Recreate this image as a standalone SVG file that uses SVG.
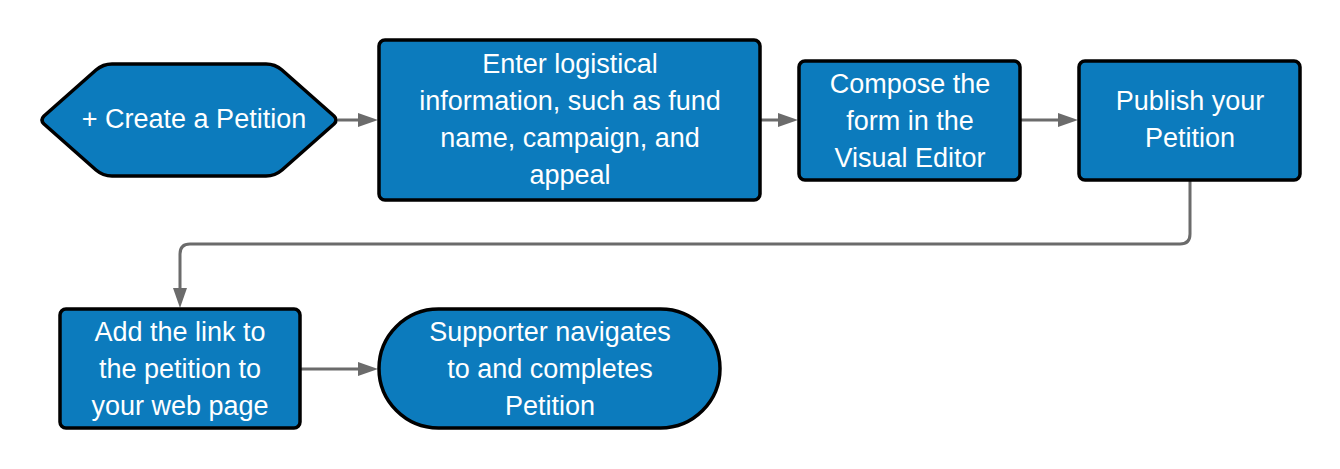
<svg xmlns="http://www.w3.org/2000/svg" width="1340" height="469" viewBox="0 0 1340 469">
<style>
.n{fill:#0c7bbd;stroke:#000;stroke-width:3.5;stroke-linejoin:round}
.t{font-family:"Liberation Sans",Arial,sans-serif;font-size:27px;fill:#fff;text-anchor:middle}
.c{fill:none;stroke:#6b6b6b;stroke-width:3}
</style>
<defs><marker id="a" markerWidth="8" markerHeight="8" refX="7" refY="4" orient="auto" markerUnits="userSpaceOnUse" viewBox="0 0 8 8"><path d="M0,0L8,4L0,8z" fill="#6b6b6b"/></marker></defs>
<rect width="1340" height="469" fill="#fff"/>
<g id="connectors">
<path class="c" d="M338,120H372" marker-end="url(#a)" style="marker-end:none"/>
<path d="M358,113L378,120L358,127z" fill="#6b6b6b"/>
<path class="c" d="M760,120H780"/><path d="M778,113L798,120L778,127z" fill="#6b6b6b"/>
<path class="c" d="M1020,120H1060"/><path d="M1058,113L1078,120L1058,127z" fill="#6b6b6b"/>
<path class="c" d="M1190,180V234Q1190,244 1180,244H190Q180,244 180,254V290"/><path d="M173,288L180,308L187,288z" fill="#6b6b6b"/>
<path class="c" d="M300,369H360"/><path d="M358,362L378,369L358,376z" fill="#6b6b6b"/>
</g>
<g id="n1"><path class="n" d="M44,116L96,70Q103,64 112,64H266Q275,64 282,70L334,116Q338,120 334,124L282,170Q275,176 266,176H112Q103,176 96,170L44,124Q40,120 44,116Z"/><text class="t" x="194" y="128">+ Create a Petition</text></g>
<g id="n2"><rect class="n" x="379" y="40" width="381" height="160" rx="6"/><text class="t" x="570" y="73">Enter logistical<tspan x="570" dy="37">information, such as fund</tspan><tspan x="570" dy="37">name, campaign, and</tspan><tspan x="570" dy="37">appeal</tspan></text></g>
<g id="n3"><rect class="n" x="799" y="61" width="221" height="119" rx="6"/><text class="t" x="910" y="93">Compose the<tspan x="910" dy="37">form in the</tspan><tspan x="910" dy="37">Visual Editor</tspan></text></g>
<g id="n4"><rect class="n" x="1079" y="61" width="221" height="119" rx="6"/><text class="t" x="1190" y="110">Publish your<tspan x="1190" dy="37">Petition</tspan></text></g>
<g id="n5"><rect class="n" x="60" y="309" width="240" height="119" rx="6"/><text class="t" x="180" y="341">Add the link to<tspan x="180" dy="37">the petition to</tspan><tspan x="180" dy="37">your web page</tspan></text></g>
<g id="n6"><rect class="n" x="379" y="309" width="341" height="119" rx="59.5"/><text class="t" x="550" y="341">Supporter navigates<tspan x="550" dy="37">to and completes</tspan><tspan x="550" dy="37">Petition</tspan></text></g>
</svg>
